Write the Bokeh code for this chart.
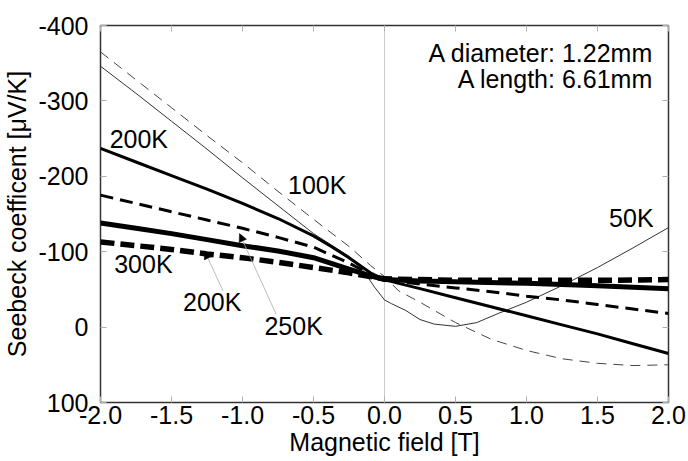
from bokeh.plotting import figure
from bokeh.models import (Range1d, FixedTicker, PrintfTickFormatter, LinearAxis, Span,
                          Arrow, NormalHead, CustomJSTickFormatter)
from bokeh.core.properties import value
from bokeh.embed import file_html
from bokeh.resources import INLINE

# ---- data ----
x_50K = [-2.0, -1.75, -1.5, -1.25, -1.0, -0.75, -0.5, -0.25, -0.15, -0.07, 0.0, 0.05, 0.15, 0.25, 0.35, 0.5, 0.65, 0.8, 1.0, 1.25, 1.5, 1.75, 2.0]
s_50K = [-346, -310, -273, -236, -198, -161, -124, -94, -75, -53, -36, -31, -22, -10, -4, -1, -6, -18, -33, -55, -79, -105, -132]

x_100K = [-2.0, -1.75, -1.5, -1.25, -1.0, -0.75, -0.5, -0.25, -0.1, 0.0, 0.1, 0.25, 0.5, 0.75, 1.0, 1.25, 1.5, 1.75, 2.0]
s_100K = [-365, -328, -291, -254, -218, -180, -143, -107, -82, -67, -48, -33, -6, 16, 31, 42, 48, 51, 50]

x_200K = [-2.0, -1.75, -1.5, -1.25, -1.0, -0.75, -0.5, -0.375, -0.25, -0.1, 0.0, 0.1, 0.25, 0.5, 0.75, 1.0, 1.25, 1.5, 1.75, 2.0]
s_200K = [-237, -219, -201, -183, -164, -144, -121, -107, -92, -72, -63, -58, -51, -39, -27, -15, -3, 9, 22, 35]

x_250K = [-2.0, -1.75, -1.5, -1.25, -1.0, -0.75, -0.5, -0.25, -0.1, 0.0, 0.25, 0.5, 0.75, 1.0, 1.25, 1.5, 1.75, 2.0]
s_250K = [-175, -164, -153, -142, -131, -119, -106, -85, -70, -63, -57, -52, -47, -41, -36, -30, -24, -18]

x_300K = [-2.0, -1.75, -1.5, -1.25, -1.0, -0.75, -0.5, -0.25, -0.1, 0.0, 0.25, 0.5, 1.0, 1.5, 2.0]
s_300K = [-138, -131, -124, -116, -108, -101, -92, -77, -68, -63, -61, -60, -58, -55, -51]

x_300Kd = [-2.0, -1.75, -1.5, -1.25, -1.0, -0.75, -0.5, -0.25, -0.1, 0.0, 0.5, 1.0, 1.5, 2.0]
s_300Kd = [-113, -108, -103, -97, -92, -86, -79, -72, -67, -64, -62, -62, -62, -63]

x_ticks = [-2.0, -1.5, -1.0, -0.5, 0.0, 0.5, 1.0, 1.5, 2.0]
y_ticks = [-400, -300, -200, -100, 0, 100]

label_text = ["200K", "100K", "300K", "200K", "250K"]
label_x = [-1.73, -0.474, -1.698, -1.213, -0.640]
label_y = [-249, -189, -84, -33, -2]

label50_text = ["50K"]
label50_x = [1.895]
label50_y = [-145]

info_text = ["A diameter: 1.22mm", "A length: 6.61mm"]
info_x = [1.895, 1.895]
info_y = [-364, -329]

arrow_x0 = [-1.137, -0.763]
arrow_y0 = [-48, -17]
arrow_x1 = [-1.267, -1.021]
arrow_y1 = [-101, -124]

FONT = "Liberation Sans"
FS = "25px"

p = figure(width=688, height=461, output_backend="svg", toolbar_location=None,
           x_range=Range1d(-2, 2), y_range=Range1d(100, -400),
           min_border_left=99, min_border_right=20, min_border_top=25, min_border_bottom=59)
p.background_fill_color = "white"
p.border_fill_color = "white"
p.xgrid.grid_line_color = None
p.ygrid.grid_line_color = None
p.outline_line_color = "#333333"
p.outline_line_width = 1.5

p.add_layout(Span(location=0, dimension="height", line_color="#cccccc", line_width=1, level="underlay"))

# curves
p.line(x_50K, s_50K, line_color="#333333", line_width=1)
p.line(x_100K, s_100K, line_color="#444444", line_width=1, line_dash="10 7")
p.line(x_200K, s_200K, line_color="black", line_width=3)
p.line(x_250K, s_250K, line_color="black", line_width=3, line_dash="13 7")
p.line(x_300K, s_300K, line_color="black", line_width=5)
p.line(x_300Kd, s_300Kd, line_color="black", line_width=5.5, line_dash="14 6")

# axes
bottom = p.below[0]
left = p.left[0]
bottom.ticker = FixedTicker(ticks=x_ticks, minor_ticks=[])
left.ticker = FixedTicker(ticks=y_ticks, minor_ticks=[])
bottom.formatter = PrintfTickFormatter(format="%.1f")
left.formatter = PrintfTickFormatter(format="%d")
bottom.axis_label = "Magnetic field [T]"
left.axis_label = "Seebeck coefficent [\u03bcV/K]"

top = LinearAxis(ticker=FixedTicker(ticks=x_ticks, minor_ticks=[]),
                 formatter=CustomJSTickFormatter(code="return ''"))
right = LinearAxis(ticker=FixedTicker(ticks=y_ticks, minor_ticks=[]),
                   formatter=CustomJSTickFormatter(code="return ''"))
for ax in (top, right):
    ax.major_label_standoff = 0
p.add_layout(top, "above")
p.add_layout(right, "right")

for ax in (bottom, left, top, right):
    ax.axis_line_color = None
    ax.major_tick_in = 6
    ax.major_tick_out = 0
    ax.major_tick_line_color = "#b0b0b0"
    ax.minor_tick_line_color = None
    ax.major_label_text_font = FONT
    ax.major_label_text_color = "black"
    ax.major_label_text_font_size = FS
    ax.axis_label_text_font = FONT
    ax.axis_label_text_font_style = "normal"
    ax.axis_label_text_color = "black"
    ax.axis_label_text_font_size = FS
bottom.major_label_standoff = 3
bottom.axis_label_standoff = 1
left.major_label_standoff = 12
left.axis_label_standoff = 4

# arrows
for i in range(len(arrow_x0)):
    p.add_layout(Arrow(end=NormalHead(size=8, fill_color="black", line_color="black", line_width=0.5),
                       x_start=arrow_x0[i], y_start=arrow_y0[i], x_end=arrow_x1[i], y_end=arrow_y1[i],
                       line_color="#aaaaaa", line_width=0.8))

# labels
p.text(x=label_x, y=label_y, text=label_text, text_font=value(FONT), text_font_size=value(FS),
       text_align="center", text_baseline="middle", text_color="black")
p.text(x=label50_x, y=label50_y, text=label50_text, text_font=value(FONT), text_font_size=value(FS),
       text_align="right", text_baseline="middle", text_color="black")
p.text(x=info_x, y=info_y, text=info_text, text_font=value(FONT), text_font_size=value(FS),
       text_align="right", text_baseline="middle", text_color="black")

open("out.html", "w").write(file_html(p, INLINE))
